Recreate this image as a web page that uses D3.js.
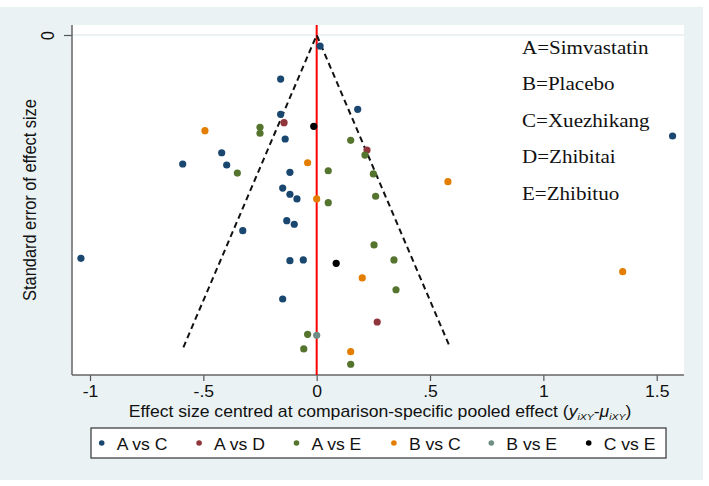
<!DOCTYPE html>
<html>
<head>
<meta charset="utf-8">
<script src="https://cdn.jsdelivr.net/npm/d3@7"></script>
<style>
  html, body { margin: 0; padding: 0; background: #ffffff; }
  svg { display: block; }
</style>
</head>
<body>
<svg id="chart" width="709" height="486"></svg>
<script>
// ---------------- data ----------------
const seriesNames = ["A vs C", "A vs D", "A vs E", "B vs C", "B vs E", "C vs E"];
const seriesColors = ["#1a476f", "#90353b", "#55752f", "#e37e00", "#6e8e84", "#000000"];

const effAC = [0.015, -0.159, 0.181, -0.159, -0.139, -0.419, -0.591, -0.397, -0.118, -0.150, -0.118, -0.087, -0.132, -0.099, -0.326, -1.040, -0.118, -0.059, -0.150, 1.570];
const seAC  = [0.0106, 0.0423, 0.0714, 0.0762, 0.0999, 0.1131, 0.1239, 0.1249, 0.1319, 0.1470, 0.1530, 0.1575, 0.1784, 0.1818, 0.1880, 0.2145, 0.2168, 0.2161, 0.2536, 0.0970];

const effAD = [-0.144, 0.222, 0.267];
const seAD  = [0.0842, 0.1105, 0.2757];

const effAE = [-0.250, -0.250, 0.150, 0.213, -0.350, 0.051, 0.250, 0.051, 0.260, 0.253, 0.341, 0.350, -0.040, -0.057, 0.150];
const seAE  = [0.0887, 0.0944, 0.1012, 0.1153, 0.1326, 0.1304, 0.1335, 0.1611, 0.1549, 0.2017, 0.2161, 0.2447, 0.2875, 0.3016, 0.3163];

const effBC = [-0.493, -0.040, 0.000, 0.579, 0.201, 1.350, 0.150];
const seBC  = [0.0919, 0.1227, 0.1575, 0.1409, 0.2334, 0.2274, 0.3042];

const effBE = [0.000];
const seBE  = [0.2885];

const effCE = [-0.013, 0.086];
const seCE  = [0.0877, 0.2193];

const xTicks = [-1, -0.5, 0, 0.5, 1, 1.5];
const xTickLabels = ["-1", "-.5", "0", ".5", "1", "1.5"];
const yTicks = [0];
const yTickLabels = ["0"];
const seMax = 0.3;
const keyLines = ["A=Simvastatin", "B=Placebo", "C=Xuezhikang", "D=Zhibitai", "E=Zhibituo"];

const seriesEff = [effAC, effAD, effAE, effBC, effBE, effCE];
const seriesSE  = [seAC, seAD, seAE, seBC, seBE, seCE];

// ---------------- layout ----------------
const SANS = "Arial, 'Liberation Sans', sans-serif";
const SERIF = "'Times New Roman', 'Liberation Serif', serif";
const STRETCH = 1.1;
const svg = d3.select("#chart");
const plot = { left: 72, right: 684, top: 25, bottom: 375 };

svg.append("rect").attr("x", 0).attr("y", 7).attr("width", 703).attr("height", 473)
  .attr("fill", "#eaf2f3");
svg.append("rect").attr("x", plot.left).attr("y", plot.top)
  .attr("width", plot.right - plot.left).attr("height", plot.bottom - plot.top)
  .attr("fill", "#ffffff");

const x = d3.scaleLinear().domain([-1, 1.5]).range([90, 656.7]);
const y = d3.scaleLinear().domain([0, 0.3]).range([35, 347.3]);

svg.selectAll(".grid").data(yTicks).enter().append("line")
  .attr("x1", plot.left).attr("x2", plot.right)
  .attr("y1", d => y(d)).attr("y2", d => y(d))
  .attr("stroke", "#e6eef0").attr("stroke-width", 1.5);

// x axis
const xAxis = d3.axisBottom(x).tickValues(xTicks)
  .tickFormat((d, i) => xTickLabels[i]).tickSize(6).tickPadding(3);
const gx = svg.append("g").attr("transform", `translate(0,${plot.bottom})`).call(xAxis);
gx.select(".domain").remove();
gx.selectAll(".tick line").attr("stroke", "#555").attr("stroke-width", 1.2);
gx.selectAll(".tick text")
  .style("font-family", SANS).style("font-size", "16px").attr("fill", "#111")
  .attr("y", 0).attr("dy", null)
  .attr("transform", `translate(0,22) scale(${STRETCH},1)`);

// y axis
const yAxis = d3.axisLeft(y).tickValues(yTicks)
  .tickFormat((d, i) => yTickLabels[i]).tickSize(8).tickPadding(4);
const gy = svg.append("g").attr("transform", `translate(${plot.left},0)`).call(yAxis);
gy.select(".domain").remove();
gy.selectAll(".tick line").attr("stroke", "#555").attr("stroke-width", 1.2);
gy.selectAll(".tick text")
  .style("font-family", SANS).style("font-size", "16px").attr("fill", "#111")
  .attr("text-anchor", "middle").attr("dy", null).attr("x", 0).attr("y", 0)
  .attr("dominant-baseline", "central")
  .attr("transform", `translate(-24,0) rotate(-90) scale(1,${STRETCH})`);

// axis lines
svg.append("line").attr("x1", plot.left).attr("x2", plot.left)
  .attr("y1", plot.top).attr("y2", plot.bottom)
  .attr("stroke", "#666").attr("stroke-width", 1.5);
svg.append("line").attr("x1", plot.left).attr("x2", plot.right)
  .attr("y1", plot.bottom).attr("y2", plot.bottom)
  .attr("stroke", "#666").attr("stroke-width", 1.5);

// red reference line at 0
svg.append("line").attr("x1", x(0)).attr("x2", x(0))
  .attr("y1", plot.top).attr("y2", plot.bottom)
  .attr("stroke", "#ff0000").attr("stroke-width", 2);

// funnel (pseudo 95% CI)
const funnel = [[-1.96 * seMax, seMax], [0, 0], [1.96 * seMax, seMax]];
svg.append("path")
  .attr("d", d3.line().x(d => x(d[0])).y(d => y(d[1]))(funnel))
  .attr("fill", "none").attr("stroke", "#111").attr("stroke-width", 2)
  .attr("stroke-dasharray", "6,4");

// points
seriesNames.forEach((name, s) => {
  const pts = seriesEff[s].map((e, i) => ({ e: e, se: seriesSE[s][i] }));
  svg.append("g").selectAll("circle").data(pts).enter().append("circle")
    .attr("cx", d => x(d.e)).attr("cy", d => y(d.se)).attr("r", 3.6)
    .attr("fill", seriesColors[s]);
});

// treatment key text (serif)
svg.append("g").selectAll("text").data(keyLines).enter().append("text")
  .attr("transform", (d, i) => `translate(522,${54 + i * 36.4}) scale(1.08,1)`)
  .style("font-family", SERIF).style("font-size", "19.5px").attr("fill", "#111").text(d => d);

// y-axis title
svg.append("text")
  .attr("transform", `translate(36,200) rotate(-90) scale(1,${STRETCH})`)
  .attr("text-anchor", "middle").style("font-family", SANS).style("font-size", "16.4px").attr("fill", "#111")
  .text("Standard error of effect size");

// x-axis title
const xt = svg.append("text").attr("transform", `translate(380,417) scale(${STRETCH},1)`)
  .attr("text-anchor", "middle").style("font-family", SANS).style("font-size", "16px").attr("fill", "#111");
xt.append("tspan").text("Effect size centred at comparison-specific pooled effect (");
xt.append("tspan").attr("font-style", "italic").text("y");
xt.append("tspan").attr("font-style", "italic").style("font-size", "9.5px").attr("dy", 3).text("iXY");
xt.append("tspan").attr("dy", -3).text("-");
xt.append("tspan").attr("font-style", "italic").text("\u03bc");
xt.append("tspan").attr("font-style", "italic").style("font-size", "9.5px").attr("dy", 3).text("iXY");
xt.append("tspan").attr("dy", -3).text(")");

// legend
const legX0 = 91, legY0 = 428, legW = 575, legH = 30;
svg.append("rect").attr("x", legX0).attr("y", legY0).attr("width", legW).attr("height", legH)
  .attr("fill", "#ffffff").attr("stroke", "#333").attr("stroke-width", 1.2);
const legStep = 97.4;
const lg = svg.append("g").selectAll("g").data(seriesNames).enter().append("g")
  .attr("transform", (d, i) => `translate(${101.7 + i * legStep},${legY0 + legH / 2})`);
lg.append("circle").attr("cx", 0).attr("cy", 0).attr("r", 2.8)
  .attr("fill", (d, i) => seriesColors[i]);
lg.append("text").attr("transform", `translate(15,7) scale(${STRETCH},1)`)
  .style("font-family", SANS).style("font-size", "16px").attr("fill", "#111").text(d => d);
</script>
</body>
</html>
